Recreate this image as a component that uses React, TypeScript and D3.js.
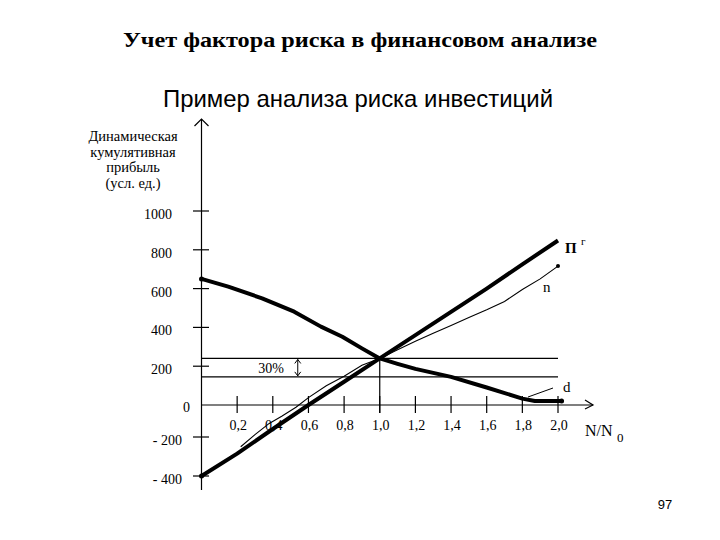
import React from "react";
import * as d3 from "d3";

// ---- data ----
const title = "Учет фактора  риска в финансовом анализе";
const subtitle = "Пример анализа риска инвестиций";
const yAxisTitle = ["Динамическая", "кумулятивная", "прибыль", "(усл. ед.)"];
const xTickValues = [0.2, 0.4, 0.6, 0.8, 1.0, 1.2, 1.4, 1.6, 1.8, 2.0];
const xTickLabels = ["0,2", "0,4", "0,6", "0,8", "1,0", "1,2", "1,4", "1,6", "1,8", "2,0"];
const yTickValues = [1000, 800, 600, 400, 200, 0, -200, -400];
const yTickLabels = ["1000", "800", "600", "400", "200", "0", "- 200", "- 400"];

// Пг — thick rising line
const seriesPg: [number, number][] = [
  [0, -400], [0.2, -285], [0.4, -150], [0.6, 0], [0.8, 120], [1.0, 240],
  [1.2, 360], [1.4, 480], [1.6, 600], [1.8, 725], [2.0, 848],
];
// n — thin rising line
const seriesN: [number, number][] = [
  [0.22, -250], [0.3, -185], [0.38, -115], [0.45, -70], [0.53, -14], [0.6, 38],
  [0.7, 99], [0.8, 148], [0.9, 205], [1.0, 240], [1.1, 285], [1.2, 328],
  [1.3, 370], [1.4, 410], [1.5, 451], [1.6, 491], [1.7, 534], [1.8, 595],
  [1.9, 650], [2.0, 716],
];
// d — thick falling line
const seriesD: [number, number][] = [
  [0, 650], [0.15, 610], [0.34, 550], [0.52, 481], [0.67, 404], [0.79, 352],
  [0.9, 292], [1.0, 240], [1.1, 212], [1.2, 186], [1.4, 145],
  [1.6, 90], [1.8, 33], [1.87, 21], [2.02, 20],
];
const bandUpper = 240;
const bandLower = 145;
const bandLabel = "30%";
const bandArrowX = 0.54;
const bandLabelX = 0.39;
const crossX = 1.0;
const pageNumber = "97";

export default function App() {
  const W = 720, H = 540;
  const x = d3.scaleLinear().domain([0, 2]).range([201.5, 558]);
  const y = d3.scaleLinear().domain([-400, -200, 0, 1000]).range([476, 437, 405, 211]);
  const line = d3.line<[number, number]>().x(d => x(d[0])).y(d => y(d[1]));
  const serif = "'Liberation Serif', 'Times New Roman', serif";
  const sans = "'Liberation Sans', Arial, sans-serif";
  const x0 = x(0), yZero = y(0);
  const ax = x(bandArrowX);
  const yu = y(bandUpper), yl = y(bandLower);

  return (
    <svg width={W} height={H} style={{ position: "absolute", left: 0, top: 0, background: "#fff" }}>
      <rect width={W} height={H} fill="#fff" />
      <text x={360} y={47} textAnchor="middle" fontFamily={serif} fontWeight="bold" fontSize={22}
        textLength={474} lengthAdjust="spacingAndGlyphs">{title}</text>
      <text x={358} y={107} textAnchor="middle" fontFamily={sans} fontSize={24}
        textLength={390} lengthAdjust="spacingAndGlyphs">{subtitle}</text>

      {yAxisTitle.map((t, i) => (
        <text key={t} x={133} y={141 + i * 15.7} textAnchor="middle" fontFamily={serif} fontSize={14.5}>{t}</text>
      ))}

      {/* axes */}
      <g stroke="#000" strokeWidth={1.2} fill="none">
        <line x1={x0} y1={490} x2={x0} y2={119} />
        <polyline points={`${x0 - 7},126 ${x0},119 ${x0 + 7},126`} />
        <line x1={x0} y1={yZero} x2={593} y2={yZero} />
        <polyline points={`585,400 593,${yZero} 585,409`} />
      </g>

      {/* y ticks */}
      {yTickValues.map((v, i) => (
        <g key={v}>
          {v !== 0 && <line x1={193} x2={209} y1={y(v)} y2={y(v)} stroke="#000" strokeWidth={1.2} />}
          <text x={v > 0 ? 172 : v === 0 ? 190 : 182} y={y(v) + (v === 0 ? 7 : 8)}
            textAnchor="end" fontFamily={serif} fontSize={14}>{yTickLabels[i]}</text>
        </g>
      ))}

      {/* x ticks */}
      {xTickValues.map((v, i) => (
        <g key={v}>
          <line x1={x(v)} x2={x(v)} y1={396} y2={413} stroke="#000" strokeWidth={1.2} />
          <text x={x(v) + 1} y={430} textAnchor="middle" fontFamily={serif} fontSize={14}>{xTickLabels[i]}</text>
        </g>
      ))}

      {/* band lines */}
      <g stroke="#000" strokeWidth={1.2}>
        <line x1={x0} x2={x(2)} y1={yu} y2={yu} />
        <line x1={x0} x2={x(2)} y1={yl} y2={yl} />
        <line x1={x(crossX)} x2={x(crossX)} y1={yu} y2={413} />
        <line x1={ax} x2={ax} y1={yu + 1} y2={yl - 1} strokeWidth={1} />
        <polyline points={`${ax - 3},${yu + 5} ${ax},${yu + 1} ${ax + 3},${yu + 5}`} fill="none" strokeWidth={1} />
        <polyline points={`${ax - 3},${yl - 5} ${ax},${yl - 1} ${ax + 3},${yl - 5}`} fill="none" strokeWidth={1} />
      </g>
      <text x={x(bandLabelX)} y={373} textAnchor="middle" fontFamily={serif} fontSize={14}>{bandLabel}</text>

      {/* series */}
      <path d={line(seriesN) || ""} fill="none" stroke="#000" strokeWidth={1.1} />
      <path d={line(seriesPg) || ""} fill="none" stroke="#000" strokeWidth={4} strokeLinejoin="round" />
      <path d={line(seriesD) || ""} fill="none" stroke="#000" strokeWidth={4} strokeLinejoin="round" />
      <circle cx={x(seriesD[0][0])} cy={y(seriesD[0][1])} r={2.5} />
      <circle cx={x(seriesD[seriesD.length - 1][0])} cy={y(seriesD[seriesD.length - 1][1])} r={2.5} />
      <circle cx={x(seriesN[seriesN.length - 1][0])} cy={y(seriesN[seriesN.length - 1][1])} r={2} />
      <circle cx={x(seriesPg[0][0])} cy={y(seriesPg[0][1])} r={2.5} />

      {/* labels */}
      <text x={565} y={253} fontFamily={serif} fontSize={15} fontWeight="bold">П</text>
      <text x={581} y={245} fontFamily={serif} fontSize={11}>г</text>
      <text x={543} y={292} fontFamily={serif} fontSize={15}>n</text>
      <text x={563} y={392} fontFamily={serif} fontSize={15}>d</text>
      <line x1={528} y1={397} x2={553} y2={388} stroke="#000" strokeWidth={1} />
      <text x={585} y={436} fontFamily={serif} fontSize={16}>N/N</text>
      <text x={617} y={442} fontFamily={serif} fontSize={13}>0</text>

      <text x={665} y={509} textAnchor="middle" fontFamily={sans} fontSize={13}>{pageNumber}</text>
    </svg>
  );
}
